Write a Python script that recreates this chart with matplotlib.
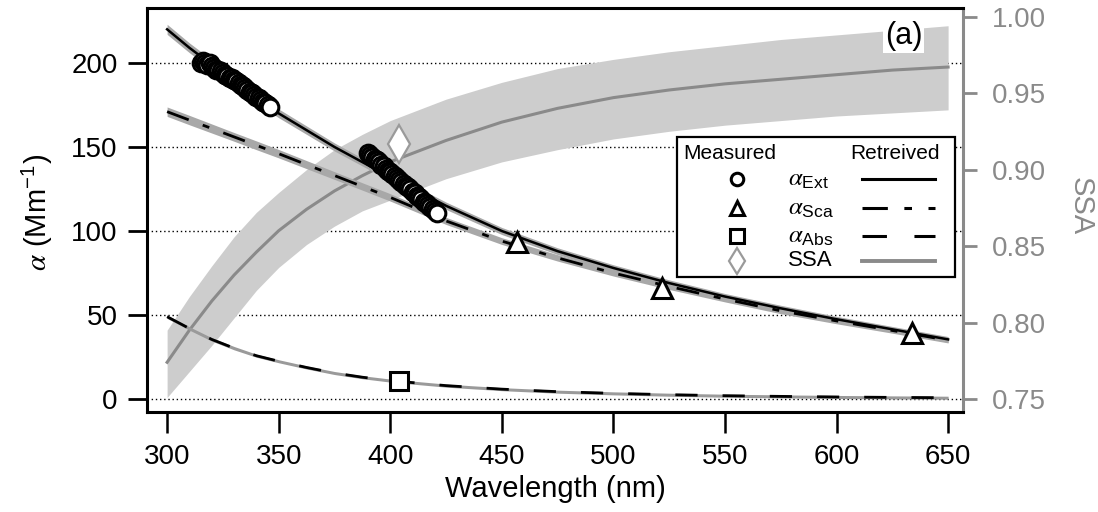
import matplotlib
matplotlib.use("Agg")
import numpy as np
import matplotlib.pyplot as plt
from matplotlib.patches import Rectangle

plt.rcParams["font.family"] = ["Liberation Sans", "DejaVu Sans"]
plt.rcParams["mathtext.fontset"] = "stix"

# retrieved curves (denser where they bend most)
wl = [300, 310, 320, 330, 340, 350, 362.5, 375, 387.5, 400,
      425, 450, 475, 500, 525, 550, 575, 600, 625, 650]
ext_fit = [220, 209, 199, 189, 179, 170, 160, 150, 141, 132,
           115, 100, 88, 78, 69, 61, 54, 47.5, 41.5, 35.5]
ext_err = [3.0, 2.9, 2.9, 2.8, 2.7, 2.6, 2.5, 2.4, 2.3, 2.3,
           2.2, 2.1, 2.0, 1.9, 1.9, 1.8, 1.8, 1.7, 1.7, 1.7]
sca_fit = [171, 166, 161, 156, 151, 146, 139.5, 133, 126.5, 120,
           106, 94, 84, 75, 67, 59.5, 52.5, 46.5, 40.8, 35]
sca_err = [2.8, 2.8, 2.7, 2.6, 2.6, 2.5, 2.4, 2.3, 2.2, 2.2,
           2.1, 2.0, 1.9, 1.8, 1.8, 1.7, 1.7, 1.7, 1.6, 1.6]
abs_fit = [49, 42, 35.5, 30.3, 25.8, 22.5, 18.8, 15.5, 13.0, 11.0,
           8.0, 5.9, 4.4, 3.4, 2.6, 2.0, 1.6, 1.25, 1.0, 0.8]
abs_err = [1.0, 1.0, 1.0, 1.0, 0.9, 0.9, 0.9, 0.9, 0.9, 0.9,
           0.9, 0.9, 0.9, 0.9, 0.9, 0.9, 0.9, 0.9, 0.9, 0.9]
ssa_fit = [0.774, 0.795, 0.814, 0.831, 0.846, 0.860, 0.874, 0.886, 0.896, 0.905,
           0.919, 0.931, 0.940, 0.947, 0.952, 0.956, 0.959, 0.962, 0.965, 0.967]
ssa_hi = [0.795, 0.817, 0.837, 0.856, 0.872, 0.885, 0.900, 0.913, 0.923, 0.932,
          0.946, 0.957, 0.966, 0.972, 0.977, 0.981, 0.985, 0.988, 0.991, 0.994]
ssa_lo = [0.751, 0.768, 0.785, 0.803, 0.821, 0.836, 0.851, 0.863, 0.873, 0.880,
          0.894, 0.905, 0.913, 0.920, 0.925, 0.929, 0.932, 0.935, 0.937, 0.939]

# measured points
ext_wl1 = list(range(315, 347))
ext_m1 = [200, 201, 200, 199, 200, 198, 197, 196, 196, 195, 194, 193, 192, 191, 191, 190,
          189, 188, 187, 186, 185, 184, 183, 182, 181, 180, 179, 178, 177, 176, 175, 174]
ext_wl2 = list(range(390, 422))
ext_m2 = [146.5, 145.5, 144, 143, 142, 141, 139.5, 138.5, 137, 136, 135, 134, 133, 131.5,
          130.5, 129, 128, 127, 126, 125, 123.5, 122.5, 121, 120, 119, 117.5, 116.5, 115.5,
          114.5, 113, 112, 111]
sca_wl = [457, 522, 634]
sca_m = [93.5, 66, 39.3]
abs_wl = [404]
abs_m = [10.7]
ssa_wl = [404]
ssa_m = [0.917]

x_ticks = [300, 350, 400, 450, 500, 550, 600, 650]
y_ticks = [0, 50, 100, 150, 200]
ssa_ticks = [0.75, 0.80, 0.85, 0.90, 0.95, 1.00]

GREY = "#8a8a8a"
BAND = "#a8a8a8"
SSA_BAND = "#cdcdcd"

fig = plt.figure(figsize=(10.98, 5.12), dpi=100)
ax = fig.add_axes([0.1339, 0.1953, 0.7432, 0.7891])
ax2 = ax.twinx()
ax.set_zorder(ax2.get_zorder() + 1)
ax.patch.set_visible(False)

ax.set_xlim(291.0, 656.7)
ax.set_ylim(-7.7, 232.7)

# dotted grid lives under the SSA band
for g in y_ticks:
    ax2.plot([0, 1], [g, g], transform=ax.get_yaxis_transform(), color="k",
             lw=1.0, ls=(0, (1, 2)), zorder=0)

# SSA on the right axis
ax2.fill_between(wl, ssa_lo, ssa_hi, color=SSA_BAND, lw=0, zorder=1)
ax2.plot(wl, ssa_fit, color=GREY, lw=2.2, zorder=2)
ax2.plot(ssa_wl, ssa_m, ls="none", marker="d", ms=19, mfc="white",
         mec="#9a9a9a", mew=1.6, zorder=3)
ax2.set_ylim(0.7415, 1.0056)

# alpha curves on the left axis
ext_fit = np.array(ext_fit); sca_fit = np.array(sca_fit); abs_fit = np.array(abs_fit)
ax.fill_between(wl, ext_fit - ext_err, ext_fit + np.array(ext_err), color=BAND, lw=0, zorder=1)
ax.fill_between(wl, sca_fit - sca_err, sca_fit + np.array(sca_err), color=BAND, lw=0, zorder=1)
ax.fill_between(wl, abs_fit - abs_err, abs_fit + np.array(abs_err), color="#9a9a9a", lw=0, zorder=1)
ax.plot(wl, ext_fit, color="k", lw=1.8, zorder=2)
ax.plot(wl, sca_fit, color="k", lw=2.0, ls=(0, (8.3, 5.4, 2.5, 5.4)), zorder=2)
ax.plot(wl, abs_fit, color="k", lw=2.0, ls=(0, (8, 9)), zorder=2)

mk = dict(ls="none", mfc="white", mec="k", zorder=4, clip_on=False)
ax.plot(ext_wl1, ext_m1, marker="o", ms=12, mew=2.2, **mk)
ax.plot(ext_wl2, ext_m2, marker="o", ms=12, mew=2.2, **mk)
ax.plot(sca_wl, sca_m, marker="^", ms=15, mew=2.2, **mk)
ax.plot(abs_wl, abs_m, marker="s", ms=13, mew=2.2, **mk)

# axes styling
ax.set_xticks(x_ticks)
ax.set_yticks(y_ticks)
ax2.set_yticks(ssa_ticks)
ax2.set_yticklabels([f"{t:.2f}" for t in ssa_ticks])
ax.tick_params(axis="x", direction="out", length=15, width=1.8, pad=8, labelsize=20)
ax.tick_params(axis="y", direction="out", length=14, width=2.0, pad=7, labelsize=20)
ax2.tick_params(axis="y", direction="out", length=10, width=2.0, pad=11,
                labelsize=20, colors=GREY)
for s in ["left", "top", "bottom"]:
    ax.spines[s].set_linewidth(2.2)
ax.spines["right"].set_visible(False)
for s in ["left", "top", "bottom"]:
    ax2.spines[s].set_visible(False)
ax2.spines["right"].set_color(GREY)
ax2.spines["right"].set_linewidth(2.2)

ax.set_xlabel("Wavelength (nm)", fontsize=21)
ax.xaxis.set_label_coords(0.5, -0.155)
ax.set_ylabel(r"$\alpha$ (Mm$^{\mathregular{-1}}$)", fontsize=21)
ax.yaxis.set_label_coords(-0.113, 0.495)
ax2.set_ylabel("SSA", fontsize=21, color=GREY, rotation=270, va="center")
ax2.yaxis.set_label_coords(1.1446, 0.51)

ax.text(0.927, 0.93, "(a)", transform=ax.transAxes, fontsize=22, ha="center",
        va="center", zorder=6,
        bbox=dict(facecolor="white", edgecolor="none", pad=1))

# hand-built legend (Measured / Retreived columns)
ax.add_patch(Rectangle((0.6495, 0.334), 0.3407, 0.3465, transform=ax.transAxes,
                       facecolor="white", edgecolor="k", lw=1.6, zorder=7))
tkw = dict(transform=ax.transAxes, zorder=8, va="center")
ax.text(0.7145, 0.6386, "Measured", fontsize=15, ha="center", **tkw)
ax.text(0.9167, 0.6386, "Retreived", fontsize=15, ha="center", **tkw)
rows = [0.5767, 0.505, 0.4356, 0.3738]
names = [r"$\alpha_{\mathregular{Ext}}$", r"$\alpha_{\mathregular{Sca}}$",
         r"$\alpha_{\mathregular{Abs}}$", "SSA"]
marks = ["o", "^", "s", "d"]
msz = [9, 10, 10, 13]
medge = ["k", "k", "k", "#9a9a9a"]
lstyles = ["-", (0, (8.3, 5.4, 2.5, 5.4)), (0, (8, 9)), "-"]
lcolors = ["k", "k", "k", GREY]
for r, nm, m, s, me, lsty, lc in zip(rows, names, marks, msz, medge, lstyles, lcolors):
    ax.plot([0.723], [r], marker=m, ms=s, mfc="white", mec=me, mew=2.2 if me == "k" else 1.6,
            transform=ax.transAxes, zorder=8, clip_on=False)
    ax.text(0.785, r, nm, fontsize=18 if nm != "SSA" else 16, ha="left", **tkw)
    ax.plot([0.876, 0.966], [r, r], color=lc, lw=2.2 if lc == "k" else 2.8, ls=lsty,
            transform=ax.transAxes, zorder=8, clip_on=False)

fig.savefig("out.png", dpi=100)
